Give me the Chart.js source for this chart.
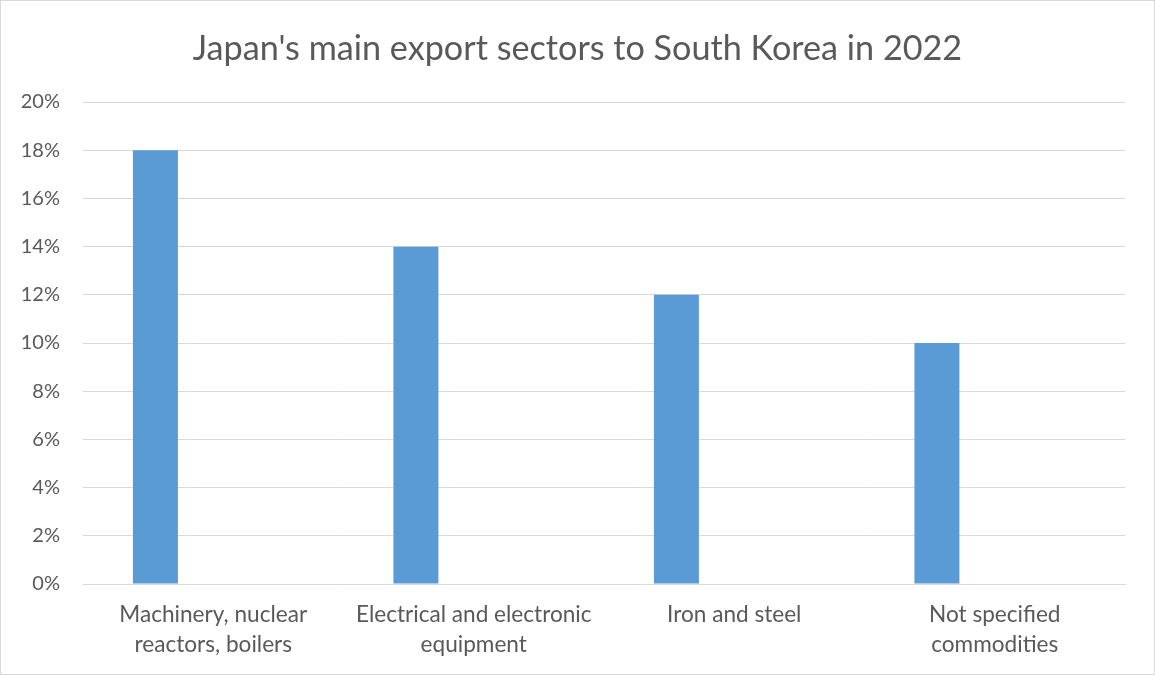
<!DOCTYPE html>
<html>
<head>
<meta charset="utf-8">
<title>Japan exports to South Korea 2022</title>
<script src="https://cdn.jsdelivr.net/npm/chart.js@4"></script>
<style>
  body { margin: 0; background: #fff; }
  #wrap { position: absolute; left: 0; top: 0; width: 1153px; height: 673px; border: 1px solid #d9d9d9; }
</style>
</head>
<body>
<div id="wrap"><canvas id="chart" width="1153" height="673"></canvas></div>
<script>
// Données
const sectors = [
  ['Machinery, nuclear', 'reactors, boilers'],
  ['Electrical and electronic', 'equipment'],
  'Iron and steel',
  ['Not specified', 'commodities']
];
const shares = [18, 14, 12, 10];
const emptySeries = [null, null, null, null];
const yTicks = [0, 2, 4, 6, 8, 10, 12, 14, 16, 18, 20];

const grey = '#595959';
const gridGrey = '#d9d9d9';
const font = 'Lato, "Open Sans", sans-serif';

new Chart(document.getElementById('chart').getContext('2d'), {
  type: 'bar',
  data: {
    labels: sectors,
    datasets: [
      { label: 'Share', data: shares, backgroundColor: '#5b9bd5', borderWidth: 0 },
      { label: '', data: emptySeries, backgroundColor: '#ed7d31', borderWidth: 0 }
    ]
  },
  options: {
    responsive: false,
    animation: false,
    layout: { padding: 0 },
    datasets: { bar: { categoryPercentage: 0.888, barPercentage: 0.389 } },
    plugins: {
      legend: { display: false },
      tooltip: { enabled: false },
      title: {
        display: true,
        text: "Japan's main export sectors to South Korea in 2022",
        color: grey,
        font: { family: font, size: 34.2, weight: 'normal' },
        padding: { top: 27, bottom: 33 }
      }
    },
    scales: {
      x: {
        grid: { display: false, drawTicks: false },
        border: { display: true, color: gridGrey, width: 1 },
        ticks: {
          color: grey,
          padding: 16,
          maxRotation: 0,
          autoSkip: false,
          font: { family: font, size: 22.6, lineHeight: 1.33 }
        },
        afterFit: s => { s.height = 90; }
      },
      y: {
        min: 0,
        max: 20,
        afterBuildTicks: s => { s.ticks = yTicks.map(v => ({ value: v })); },
        grid: { color: gridGrey, lineWidth: 1, drawTicks: false },
        border: { display: false },
        ticks: {
          color: grey,
          padding: 23,
          font: { family: font, size: 20 },
          callback: v => v + '%'
        },
        afterFit: s => { s.width = 82; }
      },
      // marge droite vide, pour garder le titre centré sur toute la largeur
      right: {
        position: 'right',
        grid: { display: false, drawTicks: false },
        border: { display: false },
        ticks: { display: false },
        afterFit: s => { s.width = 29; }
      }
    }
  }
});
</script>
</body>
</html>
